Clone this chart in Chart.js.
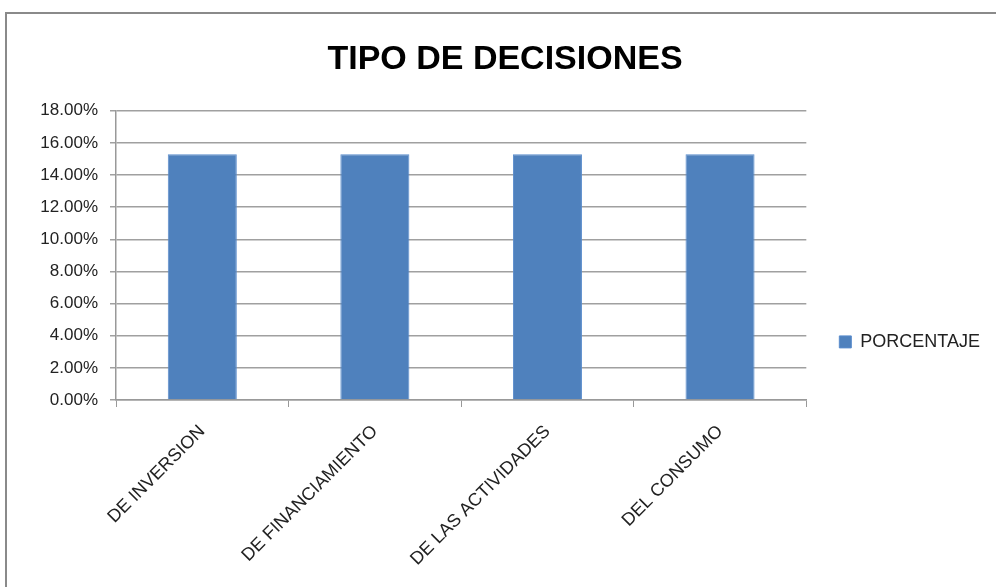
<!DOCTYPE html>
<html><head><meta charset="utf-8">
<script src="https://cdn.jsdelivr.net/npm/chart.js@4"></script>
<style>
html,body{margin:0;padding:0;background:#fff;overflow:hidden}
#wrap{position:relative;width:996px;height:587px}
#frame{position:absolute;left:5px;top:12px;width:1000px;height:600px;border:2px solid #8a8a8a;box-sizing:border-box}
canvas{position:absolute;left:0;top:0}
</style></head>
<body>
<div id="wrap"><div id="frame"></div><canvas id="c" width="996" height="587"></canvas></div>
<script>
const categories = ["DE INVERSION", "DE FINANCIAMIENTO", "DE LAS ACTIVIDADES", "DEL CONSUMO"];
const seriesName = "PORCENTAJE";
const values = [0.153, 0.153, 0.153, 0.153];
const yTicks = [0, 0.02, 0.04, 0.06, 0.08, 0.10, 0.12, 0.14, 0.16, 0.18];
const titleText = "TIPO DE DECISIONES";

const FONT = "'Liberation Sans', Arial, sans-serif";
new Chart(document.getElementById('c'), {
  type: 'bar',
  data: {
    labels: categories,
    datasets: [{
      label: seriesName,
      data: values,
      backgroundColor: '#4f81bd',
      borderColor: '#5a8ccc',
      borderWidth: 1,
      barPercentage: 0.4,
      categoryPercentage: 1.0
    }]
  },
  options: {
    responsive: false,
    animation: false,
    layout: { padding: { left: 20, top: 0, right: 6, bottom: 8 } },
    plugins: {
      title: {
        display: true, text: titleText, color: '#000',
        font: { family: FONT, size: 34, weight: 'bold' },
        padding: { top: 39, bottom: 31 }
      },
      legend: {
        position: 'right',
        title: { display: true, text: ' ', padding: { top: 100, bottom: 0 }, font: { size: 4 } },
        labels: {
          color: '#222', font: { family: FONT, size: 18 },
          boxWidth: 12, boxHeight: 12, padding: 33
        }
      },
      tooltip: { enabled: false }
    },
    scales: {
      x: {
        grid: { display: true, drawOnChartArea: false, drawTicks: true, tickLength: 7, color: '#999', offset: true },
        border: { color: '#999', width: 1.5 },
        ticks: { color: '#222', font: { family: FONT, size: 18 }, minRotation: 45, maxRotation: 45, padding: 14 },
        afterFit: s => { s.height = 179; }
      },
      y: {
        min: 0, max: 0.18,
        afterBuildTicks: s => { s.ticks = yTicks.map(v => ({ value: v })); },
        grid: { color: '#a0a0a0', lineWidth: 1.5, tickLength: 6, drawTicks: true },
        border: { color: '#999', width: 1.5 },
        ticks: {
          color: '#222', font: { family: FONT, size: 17 }, padding: 12,
          callback: v => (v * 100).toFixed(2) + '%'
        },
        afterFit: s => { s.width = 96; }
      }
    }
  }
});
</script>
</body></html>
